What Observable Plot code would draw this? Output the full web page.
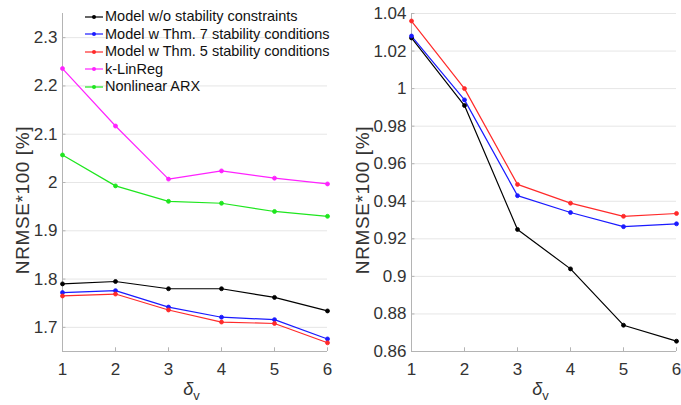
<!DOCTYPE html>
<html>
<head>
<meta charset="utf-8">
<script src="https://cdn.jsdelivr.net/npm/d3@7"></script>
<script src="https://cdn.jsdelivr.net/npm/@observablehq/plot@0.6"></script>
<style>
  html, body { margin: 0; padding: 0; background: #fff; }
  #wrap { position: relative; width: 681px; height: 405px; overflow: hidden; font-family: "Liberation Sans", Arial, sans-serif; }
  .panel { position: absolute; top: 0; }
  #legend { position: absolute; left: 84px; top: 8px; font-size: 14.5px; color: #111; line-height: 17.5px; }
  #legend .row { display: flex; align-items: center; height: 17.5px; white-space: nowrap; }
  #legend svg { margin-right: 1px; }
</style>
</head>
<body>
<div id="wrap">
  <div id="left" class="panel" style="left:0px"></div>
  <div id="right" class="panel" style="left:340px"></div>
  <div id="legend"></div>
</div>
<script>
// ---- data ----
const deltaV = [1, 2, 3, 4, 5, 6];
const seriesNames = [
  "Model w/o stability constraints",
  "Model w Thm. 7 stability conditions",
  "Model w Thm. 5 stability conditions",
  "k-LinReg",
  "Nonlinear ARX"
];
const seriesColors = ["#000000", "#1a1aff", "#ff2a2a", "#ff22ff", "#1ee61e"];

// left panel
const leftNoStab = [1.790, 1.795, 1.780, 1.780, 1.762, 1.734];
const leftThm7   = [1.772, 1.776, 1.742, 1.721, 1.716, 1.676];
const leftThm5   = [1.765, 1.769, 1.736, 1.711, 1.708, 1.668];
const leftKLin   = [2.236, 2.117, 2.007, 2.024, 2.009, 1.997];
const leftNARX   = [2.057, 1.993, 1.961, 1.957, 1.940, 1.930];
const leftYTicks = [1.7, 1.8, 1.9, 2.0, 2.1, 2.2, 2.3];
const leftYDomain = [1.65, 2.35];

// right panel
const rightNoStab = [1.027, 0.991, 0.925, 0.904, 0.874, 0.8655];
const rightThm7   = [1.028, 0.994, 0.943, 0.934, 0.9265, 0.928];
const rightThm5   = [1.036, 1.000, 0.949, 0.939, 0.932, 0.9335];
const rightYTicks = [0.86, 0.88, 0.90, 0.92, 0.94, 0.96, 0.98, 1.00, 1.02, 1.04];
const rightYDomain = [0.86, 1.04];

const xTicks = [1, 2, 3, 4, 5, 6];
const xDomain = [1, 6];

function tidy(seriesList) {
  const rows = [];
  seriesList.forEach(([idx, vals]) => {
    vals.forEach((v, i) => rows.push({x: deltaV[i], y: v, s: seriesNames[idx]}));
  });
  return rows;
}

const fmt = d => String(+d.toFixed(2));
const axisGray = "#b4b4b4";
const textGray = "#333";

function makePanel(data, yDomain, yTicks, width, marginLeft, marginRight) {
  const yTickLen = (yDomain[1] - yDomain[0]) * 0.011;
  const xTickLen = (xDomain[1] - xDomain[0]) * 0.013;
  const plot = Plot.plot({
    width, height: 405,
    marginLeft, marginRight, marginTop: 13, marginBottom: 54,
    style: {fontFamily: "'Liberation Sans', Arial, sans-serif", fontSize: "17px", color: textGray, background: "#fff", overflow: "visible"},
    x: {domain: xDomain, ticks: xTicks, label: null},
    y: {domain: yDomain, ticks: yTicks, label: null},
    color: {domain: seriesNames, range: seriesColors},
    marks: [
      Plot.gridY(yTicks, {stroke: "#e6e6e6", strokeOpacity: 1}),
      Plot.axisX(xTicks, {tickSize: 0, tickPadding: 11, tickFormat: fmt, fontSize: 17}),
      Plot.axisY(yTicks, {tickSize: 0, tickPadding: 5, tickFormat: fmt, fontSize: 17}),
      Plot.ruleX(xTicks, {y1: yDomain[0], y2: yDomain[0] + yTickLen, stroke: axisGray}),
      Plot.ruleY(yTicks, {x1: xDomain[0], x2: xDomain[0] + xTickLen, stroke: axisGray}),
      Plot.ruleY([yDomain[0]], {stroke: axisGray}),
      Plot.ruleX([xDomain[0]], {stroke: axisGray}),
      Plot.line(data, {x: "x", y: "y", z: "s", stroke: "s", strokeWidth: 1.2}),
      Plot.dot(data, {x: "x", y: "y", fill: "s", stroke: "s", r: 2, strokeWidth: 0.8})
    ]
  });
  const svg = d3.select(plot);
  // y label
  svg.append("text")
    .attr("transform", `translate(22,200) rotate(-90)`)
    .attr("text-anchor", "middle")
    .attr("dominant-baseline", "central")
    .attr("fill", textGray)
    .style("font-size", "19px")
    .style("letter-spacing", "0.6px")
    .text("NRMSE*100 [%]");
  // x label
  const cx = marginLeft + (width - marginLeft - marginRight) / 2 - 3;
  const t = svg.append("text")
    .attr("x", cx).attr("y", 395)
    .attr("text-anchor", "middle")
    .attr("fill", textGray)
    .style("font-size", "18px");
  t.append("tspan").style("font-style", "italic").text("δ");
  t.append("tspan").attr("dy", 5).style("font-size", "13px").text("v");
  return plot;
}

const leftData = tidy([[0, leftNoStab], [1, leftThm7], [2, leftThm5], [3, leftKLin], [4, leftNARX]]);
const rightData = tidy([[0, rightNoStab], [1, rightThm7], [2, rightThm5]]);

document.getElementById("left").appendChild(makePanel(leftData, leftYDomain, leftYTicks, 340, 62, 13));
document.getElementById("right").appendChild(makePanel(rightData, rightYDomain, rightYTicks, 341, 71, 5));

// legend
const legend = d3.select("#legend");
seriesNames.forEach((name, i) => {
  const row = legend.append("div").attr("class", "row");
  const sw = row.append("svg").attr("width", 20).attr("height", 10);
  sw.append("line").attr("x1", 1).attr("x2", 19).attr("y1", 5).attr("y2", 5)
    .attr("stroke", seriesColors[i]).attr("stroke-width", 1.2);
  sw.append("circle").attr("cx", 10).attr("cy", 5).attr("r", 2).attr("fill", seriesColors[i]);
  row.append("span").text(name);
});
</script>
</body>
</html>
